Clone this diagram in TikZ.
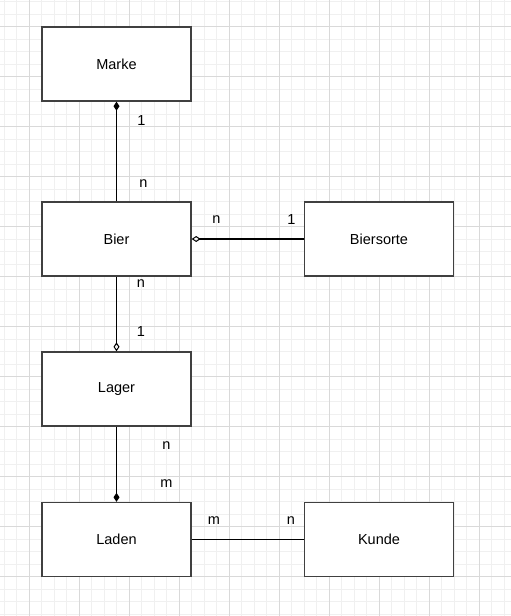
\documentclass[tikz,border=0pt]{standalone}
\usepackage{fontspec}
\setmainfont{Liberation Sans}
\usetikzlibrary{arrows.meta}
\tikzstyle{entity}=[draw=black!75,line width=1.3pt,fill=white,minimum width=149pt,minimum height=74pt,inner sep=0pt,font=\fontsize{14.5}{17}\selectfont]
\tikzstyle{link} = [draw,line width=1.3pt]
\tikzstyle{comp} = [-{Diamond[length=9pt,width=6pt]}]
\tikzstyle{agg} = [-{Diamond[open,length=9pt,width=6pt,line width=1pt]}]
\tikzstyle{card} = [font=\fontsize{14.5}{17}\selectfont,inner sep=0pt]
\tikzstyle{minorline} = [black!6,line width=1pt]
\tikzstyle{majorline} = [black!15,line width=1pt]

\begin{document}
\begin{tikzpicture}[x=1pt,y=-1pt]

    \useasboundingbox[fill=white] (0,0) rectangle (511,616);

    % grid
    \foreach \i in {0,...,41}
        \draw[minorline] ({4+12.5*\i},0) -- ({4+12.5*\i},616);
    \foreach \i in {0,...,49}
        \draw[minorline] (0,{1.7+12.5*\i}) -- (511,{1.7+12.5*\i});
    \foreach \i in {0,...,10}
        \draw[majorline] ({29+50*\i},0) -- ({29+50*\i},616);
    \foreach \i in {0,...,12}
        \draw[majorline] (0,{26.7+50*\i}) -- (511,{26.7+50*\i});

    \foreach \pos/ \name/ \text in {{(116.5,64)/marke/Marke}, {(116.5,239)/bier/Bier}, {(379,239)/biersorte/Biersorte},
        {(116.5,389)/lager/Lager}, {(116.5,539.5)/laden/Laden}, {(379,539.5)/kunde/Kunde}}
        \node[entity] (\name) at \pos {\text};

    \path[link,comp] (bier) -- (marke);
    \path[link,agg] (biersorte) -- (bier);
    \path[link,agg] (bier) -- (lager);
    \path[link,comp] (lager) -- (laden);
    \path[link] (laden) -- (kunde);

    \foreach \pos/ \name/ \text in {{(141.5,121)/c1/1}, {(143.5,184)/c2/n}, {(216.5,220)/c3/n}, {(291.5,220)/c4/1},
        {(141,284)/c5/n}, {(141,331.5)/c6/1}, {(166.5,446)/c7/n}, {(166.5,483.5)/c8/m},
        {(214,521)/c9/m}, {(291,521)/c10/n}}
        \node[card] (\name) at \pos {\text};

\end{tikzpicture}
\end{document}
